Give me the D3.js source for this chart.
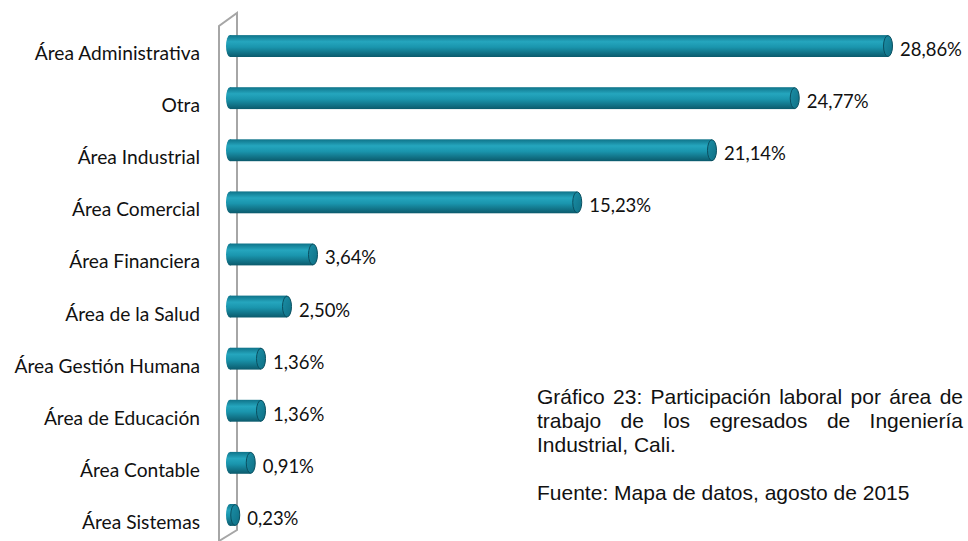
<!DOCTYPE html>
<html>
<head>
<meta charset="utf-8">
<script src="https://cdn.jsdelivr.net/npm/d3@7"></script>
<style>
  body { margin: 0; background: #fff; }
  .cat-label { font-family: Lato, "Open Sans", sans-serif; font-size: 19.2px; fill: #111; }
  .val-label { font-family: Lato, "Open Sans", sans-serif; font-size: 18.5px; fill: #111; }
  .note { font-family: "Liberation Sans", Arial, sans-serif; font-size: 21px; fill: #111; }
</style>
</head>
<body>
<svg class="chart_svg"></svg>
<script>
const categories = ["Área Administrativa", "Otra", "Área Industrial", "Área Comercial", "Área Financiera",
  "Área de la Salud", "Área Gestión Humana", "Área de Educación", "Área Contable", "Área Sistemas"];
const values = [28.86, 24.77, 21.14, 15.23, 3.64, 2.50, 1.36, 1.36, 0.91, 0.23];
const valueLabels = ["28,86%", "24,77%", "21,14%", "15,23%", "3,64%", "2,50%", "1,36%", "1,36%", "0,91%", "0,23%"];
const noteLines = ["Gráfico 23: Participación laboral por área de", "trabajo de los egresados de Ingeniería", "Industrial, Cali."];
const sourceLine = "Fuente: Mapa de datos, agosto de 2015";

const width = 968, height = 541;
const svg = d3.select(".chart_svg").attr("width", width).attr("height", height);

const x_scale = d3.scaleLinear().domain([0, 28.86]).range([230, 888]);
const y_scale = d3.scaleBand().domain(categories).range([20, 541]).paddingInner(0.58).paddingOuter(0.29);

// gradient for the cylinders
const defs = svg.append("defs");
const grad = defs.append("linearGradient").attr("id", "cyl").attr("x1", 0).attr("y1", 0).attr("x2", 0).attr("y2", 1);
grad.append("stop").attr("offset", "0%").attr("stop-color", "#0f7389");
grad.append("stop").attr("offset", "30%").attr("stop-color", "#25a6be");
grad.append("stop").attr("offset", "55%").attr("stop-color", "#1a95ad");
grad.append("stop").attr("offset", "100%").attr("stop-color", "#0b5a6c");
const capGrad = defs.append("linearGradient").attr("id", "cap").attr("x1", 0).attr("y1", 0).attr("x2", 1).attr("y2", 1);
capGrad.append("stop").attr("offset", "0%").attr("stop-color", "#1b8fa7");
capGrad.append("stop").attr("offset", "100%").attr("stop-color", "#0f6f84");

// back wall (3D)
const wall = svg.append("g").attr("class", "wall")
  .attr("fill", "none").attr("stroke", "#a6a6a6").attr("stroke-width", 2);
wall.append("path").attr("d", "M219,541 L219,26 L237,13 L237,530 L219,541");

const bh = y_scale.bandwidth();
const bars = svg.selectAll(".bar")
  .data(values)
  .join("g")
  .attr("class", "bar")
  .attr("transform", (d, i) => `translate(0,${y_scale(categories[i])})`);

bars.append("ellipse")
  .attr("cx", x_scale(0))
  .attr("cy", bh / 2)
  .attr("rx", 4)
  .attr("ry", bh / 2)
  .attr("fill", "url(#cyl)");
bars.append("rect")
  .attr("x", x_scale(0))
  .attr("y", 0)
  .attr("width", d => x_scale(d) - x_scale(0))
  .attr("height", bh)
  .attr("fill", "url(#cyl)");
bars.append("ellipse")
  .attr("cx", d => x_scale(d))
  .attr("cy", bh / 2)
  .attr("rx", 4.5)
  .attr("ry", bh / 2 - 0.5)
  .attr("fill", "url(#cap)")
  .attr("stroke", "#0a4f60")
  .attr("stroke-width", 1);

bars.append("text")
  .attr("class", "val-label")
  .attr("x", d => x_scale(d) + 12)
  .attr("y", bh / 2 + 10)
  .text((d, i) => valueLabels[i]);

// category axis
const yAxis = svg.append("g")
  .attr("transform", "translate(200,0)")
  .call(d3.axisLeft(y_scale).tickSize(0).tickPadding(0));
yAxis.select(".domain").remove();
yAxis.selectAll("text").attr("class", "cat-label").attr("font-family", null).attr("font-size", null)
  .attr("dy", null).attr("y", 14);

// caption, first two lines justified between x0 and x1
const x0 = 537, x1 = 963;
noteLines.forEach((line, i) => {
  const y = 404 + i * 24;
  if (i === noteLines.length - 1) {
    svg.append("text").attr("class", "note").attr("x", x0).attr("y", y).text(line);
    return;
  }
  const words = line.split(" ");
  const t = svg.append("text").attr("class", "note").attr("y", y);
  const spans = words.map(w => t.append("tspan").text(w));
  const widths = spans.map(s => s.node().getComputedTextLength());
  const gap = (x1 - x0 - d3.sum(widths)) / (words.length - 1);
  let cx = x0;
  spans.forEach((s, k) => { s.attr("x", cx); cx += widths[k] + gap; });
});
svg.append("text").attr("class", "note").attr("x", x0).attr("y", 500).text(sourceLine);
</script>
</body>
</html>
